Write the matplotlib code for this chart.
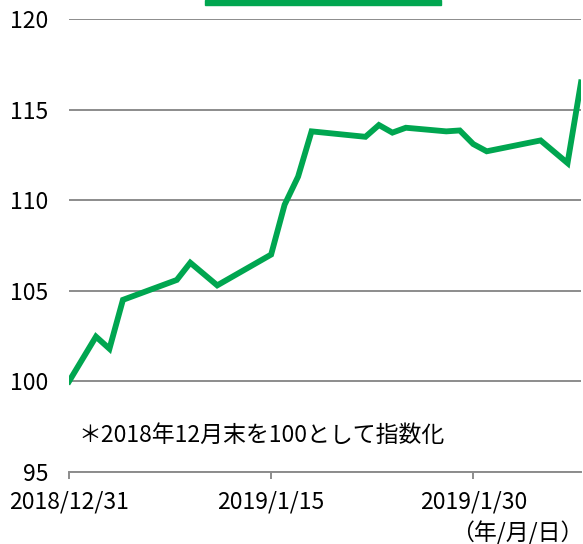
import numpy as np
import pandas as pd
import matplotlib
matplotlib.use('Agg')
from matplotlib import pyplot as plt
from matplotlib.patches import Rectangle

plt.rcParams['font.family'] = ['Noto Sans CJK JP', 'DejaVu Sans']

# index values (2018/12/31 = 100)
dates = ['2018-12-31', '2019-01-02', '2019-01-03', '2019-01-04', '2019-01-08',
         '2019-01-09', '2019-01-11', '2019-01-15', '2019-01-16', '2019-01-17',
         '2019-01-18', '2019-01-22', '2019-01-23', '2019-01-24', '2019-01-25',
         '2019-01-28', '2019-01-29', '2019-01-30', '2019-01-31', '2019-02-04',
         '2019-02-06', '2019-02-07']
values = [100.0, 102.47, 101.8, 104.5, 105.6,
          106.55, 105.3, 107.0, 109.75, 111.3,
          113.8, 113.5, 114.15, 113.73, 114.0,
          113.8, 113.85, 113.1, 112.7, 113.3,
          112.05, 116.5]

xticks = ['2018-12-31', '2019-01-15', '2019-01-30']
xticklabels = ['2018/12/31', '2019/1/15', '2019/1/30']
yticks = [95, 100, 105, 110, 115, 120]

note = '＊2018年12月末を100として指数化'
unit = '（年/月/日）'

GREEN = '#00a650'
GRAY = '#8c8c8c'
FS = 16.5


def plotIndex():
    fig = plt.figure(figsize=(5.83, 5.44), dpi=100)
    ax = fig.add_axes([0.1184, 0.1324, 0.8782, 0.8326])

    x = pd.to_datetime(dates)
    ax.plot(x, values, color=GREEN, lw=4.2, solid_joinstyle='miter', zorder=3)

    ax.set_xlim(pd.Timestamp('2018-12-31'), pd.Timestamp('2019-02-07'))
    ax.set_ylim(95, 120)

    # gridlines on y only
    ax.set_yticks(yticks)
    ax.set_yticklabels([str(v) for v in yticks], fontsize=FS)
    ax.yaxis.grid(True, color=GRAY, lw=1.4)
    ax.tick_params(axis='y', length=0, pad=15)

    ax.set_xticks(pd.to_datetime(xticks))
    ax.set_xticklabels(xticklabels, fontsize=FS)
    ax.tick_params(axis='x', length=5, width=1.4, color=GRAY, pad=8)

    for s in ['left', 'right', 'top']:
        ax.spines[s].set_visible(False)
    ax.spines['bottom'].set_color(GRAY)
    ax.spines['bottom'].set_linewidth(1.4)

    ax.text(78 / 583, 1 - 435 / 544, note, transform=fig.transFigure,
            fontsize=FS, va='center', ha='left')
    fig.text(1.0, 1 - 533 / 544, unit, fontsize=FS, va='center', ha='right')

    # clipped legend bar at top
    fig.patches.append(Rectangle((205 / 583, 1 - 4.5 / 544), 236 / 583, 4.5 / 544,
                                 transform=fig.transFigure, color=GREEN, zorder=5))

    fig.savefig('out.png', dpi=100)


if __name__ == '__main__':
    plotIndex()
